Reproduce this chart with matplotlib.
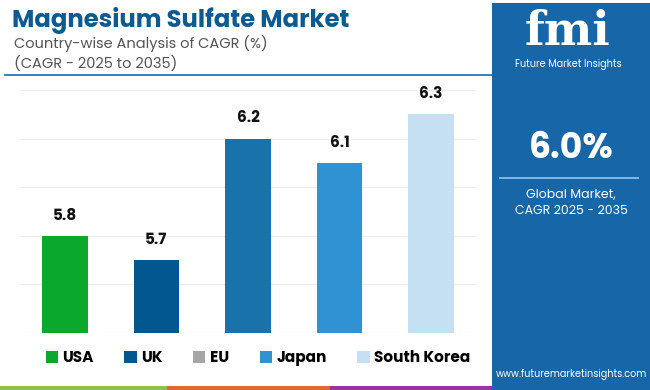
import matplotlib.pyplot as plt
from matplotlib.patches import Patch, Rectangle
from matplotlib.lines import Line2D

countries = ['USA', 'UK', 'EU', 'Japan', 'South Korea']
cagr = [5.8, 5.7, 6.2, 6.1, 6.3]
bar_colors = ['#0aa82c', '#03578f', '#1a72ab', '#3192d3', '#c4e0f2']
legend_colors = ['#0aa82c', '#03578f', '#a6a6a6', '#3192d3', '#c4e0f2']
global_cagr = '6.0%'

plt.rcParams['font.family'] = ['Poppins', 'Inter', 'DejaVu Sans']

fig = plt.figure(figsize=(6.5, 3.9), dpi=100)
fig.patch.set_facecolor('white')

ax = fig.add_axes([20 / 650, 1 - 333 / 390, 456 / 650, 243 / 390])
x = range(len(countries))
bars = ax.bar(x, cagr, width=0.5, color=bar_colors, zorder=3)
ax.set_ylim(5.4, 6.4)
ax.set_xlim(-0.49, 4.49)
ax.set_yticks([5.4, 5.6, 5.8, 6.0, 6.2, 6.4])
ax.grid(axis='y', color='#ececec', linewidth=0.8, zorder=0)
ax.tick_params(left=False, bottom=False, labelleft=False, labelbottom=False)
for s in ax.spines.values():
    s.set_visible(False)
for b, v in zip(bars, cagr):
    ax.text(b.get_x() + b.get_width() / 2, v + 0.05, f'{v:.1f}', ha='center', va='bottom',
            fontsize=11, fontweight='bold', color='#111111')

# header
fig.text(12 / 650, 1 - 20 / 390, 'Magnesium Sulfate Market', fontsize=17.5, fontweight='bold',
         color='#0b5a92', va='center', ha='left')
fig.text(14 / 650, 1 - 43 / 390, 'Country-wise Analysis of CAGR (%)', fontsize=10.5,
         color='#555555', va='center', ha='left')
fig.text(14 / 650, 1 - 64 / 390, '(CAGR - 2025 to 2035)', fontsize=10.5,
         color='#555555', va='center', ha='left')
fig.add_artist(Line2D([5 / 650, 492 / 650], [1 - 75 / 390] * 2, color='#1a6aa8', lw=1.2))

# legend
handles = [Patch(facecolor=c, edgecolor='none') for c in legend_colors]
leg = fig.legend(handles, countries, loc='center', bbox_to_anchor=(258 / 650, 1 - 358 / 390),
                 ncol=5, frameon=False, handlelength=0.8, handleheight=0.8, handletextpad=0.3,
                 columnspacing=2.0, prop={'weight': 'bold', 'size': 11})

# bottom strips
for x0, x1, c in [(0, 167, '#8cbf4f'), (167, 330, '#e0683a'), (330, 494, '#8e3a96')]:
    fig.add_artist(Rectangle((x0 / 650, 0), (x1 - x0) / 650, 4 / 390, color=c, lw=0))

# right panel
panel = '#1666a8'
fig.add_artist(Rectangle((492 / 650, 0), 158 / 650, 387 / 390, color=panel, lw=0))
fig.text(568 / 650, 1 - 32 / 390, 'fmi', fontsize=33, fontweight='bold', family='DejaVu Serif',
         color='white', ha='center', va='center')
for yy in range(16, 52, 4):
    fig.add_artist(Line2D([515 / 650, 625 / 650], [1 - yy / 390] * 2, color=panel, lw=1.0))
fig.text(568 / 650, 1 - 65 / 390, 'Future Market Insights', fontsize=7, color='white',
         ha='center', va='center')
fig.text(571 / 650, 1 - 150 / 390, global_cagr, fontsize=25, fontweight='bold', color='white',
         ha='center', va='center')
fig.add_artist(Line2D([500 / 650, 638 / 650], [1 - 178 / 390] * 2, color='#9cc6e8', lw=1.2))
fig.text(571 / 650, 1 - 195 / 390, 'Global Market,', fontsize=9, color='white',
         ha='center', va='center')
fig.text(571 / 650, 1 - 211 / 390, 'CAGR 2025 - 2035', fontsize=9, color='white',
         ha='center', va='center')
fig.text(571 / 650, 1 - 374 / 390, 'www.futuremarketinsights.com', fontsize=7, color='white',
         ha='center', va='center')

fig.savefig('out.png', dpi=100)
